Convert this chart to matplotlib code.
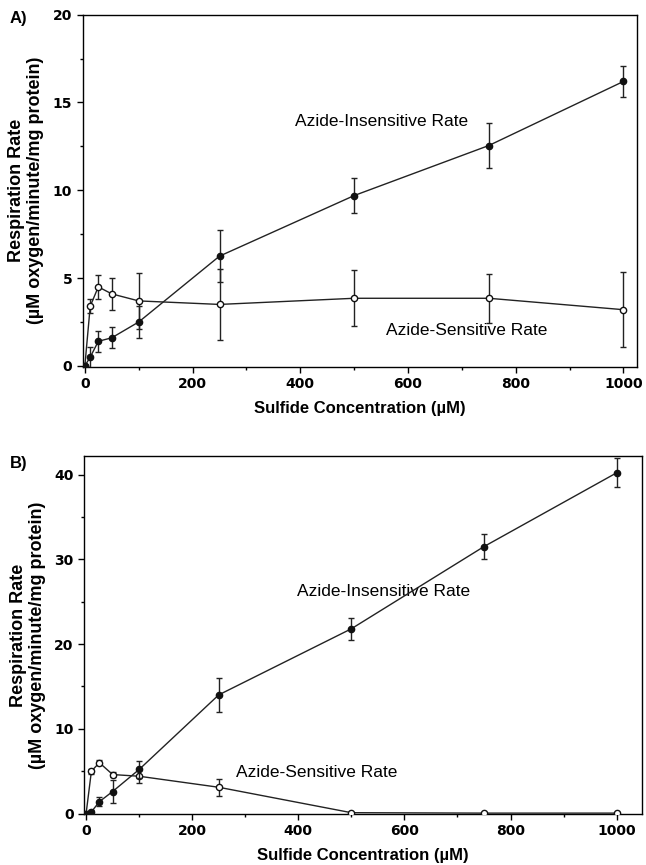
import matplotlib.pyplot as plt
from matplotlib.ticker import MultipleLocator

plt.rcParams['font.family'] = ['Liberation Sans', 'DejaVu Sans']

# sulfide concentrations (uM)
conc = [0, 10, 25, 50, 100, 250, 500, 750, 1000]

# panel A
a_ins = [0.0, 0.5, 1.4, 1.6, 2.5, 6.25, 9.7, 12.55, 16.2]
a_ins_err = [0.0, 0.6, 0.6, 0.6, 0.9, 1.5, 1.0, 1.3, 0.9]
a_sen = [0.0, 3.4, 4.5, 4.1, 3.7, 3.5, 3.85, 3.85, 3.2]
a_sen_err = [0.0, 0.4, 0.7, 0.9, 1.6, 2.0, 1.6, 1.4, 2.15]

# panel B
b_ins = [0.0, 0.2, 1.4, 2.6, 5.2, 14.0, 21.8, 31.5, 40.2]
b_ins_err = [0.0, 0.2, 0.5, 1.4, 1.0, 2.0, 1.3, 1.5, 1.7]
b_sen = [0.0, 5.0, 6.0, 4.6, 4.4, 3.1, 0.1, 0.05, 0.05]
b_sen_err = [0.0, 0.3, 0.3, 0.3, 0.8, 1.0, 0.0, 0.0, 0.0]

fig = plt.figure(figsize=(6.46, 8.65), dpi=100)
axA = fig.add_axes([0.128, 0.576, 0.858, 0.407])
axB = fig.add_axes([0.130, 0.059, 0.864, 0.414])


def draw_panel(ax, ins, ins_err, sen, sen_err, xmax, ymax, ystep, yminor):
    ax.errorbar(conc, sen, yerr=sen_err, color='#222222', lw=1.0, marker='o', ms=4.5,
                mfc='white', mec='#111111', mew=1.0, capsize=2.5, elinewidth=1.0, zorder=3)
    ax.errorbar(conc, ins, yerr=ins_err, color='#222222', lw=1.0, marker='o', ms=4.5,
                mfc='#111111', mec='#111111', capsize=2.5, elinewidth=1.0, zorder=4)
    ax.set_xlim(-4, xmax)
    ax.set_ylim(-0.05, ymax)
    ax.xaxis.set_major_locator(MultipleLocator(200))
    ax.xaxis.set_minor_locator(MultipleLocator(100))
    ax.yaxis.set_major_locator(MultipleLocator(ystep))
    ax.yaxis.set_minor_locator(MultipleLocator(yminor))
    ax.tick_params(which='both', direction='out', labelsize=10, width=1)
    ax.tick_params(which='major', length=4)
    ax.tick_params(which='minor', length=2)
    for lab in ax.get_xticklabels() + ax.get_yticklabels():
        lab.set_fontweight('bold')
        lab.set_family('DejaVu Sans')
    for sp in ax.spines.values():
        sp.set_linewidth(1.0)
    ax.set_xlabel('Sulfide Concentration (\u00b5M)', fontsize=12, fontweight='bold', labelpad=7)
    ax.set_ylabel('Respiration Rate\n(\u00b5M oxygen/minute/mg protein)', fontsize=13,
                  fontweight='bold', labelpad=6, linespacing=1.15)


draw_panel(axA, a_ins, a_ins_err, a_sen, a_sen_err, 1025, 20, 5, 2.5)
axA.text(550, 13.9, 'Azide-Insensitive Rate', fontsize=12.5, ha='center', va='center')
axA.text(709, 2.0, 'Azide-Sensitive Rate', fontsize=12.5, ha='center', va='center')

draw_panel(axB, b_ins, b_ins_err, b_sen, b_sen_err, 1048, 42.2, 10, 5)
axB.text(561, 26.2, 'Azide-Insensitive Rate', fontsize=12.5, ha='center', va='center')
axB.text(434, 4.8, 'Azide-Sensitive Rate', fontsize=12.5, ha='center', va='center')

fig.text(10 / 646, 1 - 18 / 865, 'A)', fontsize=12, fontweight='bold', va='center')
fig.text(10 / 646, 1 - 464 / 865, 'B)', fontsize=12, fontweight='bold', va='center')

fig.savefig('out.png', dpi=100)
